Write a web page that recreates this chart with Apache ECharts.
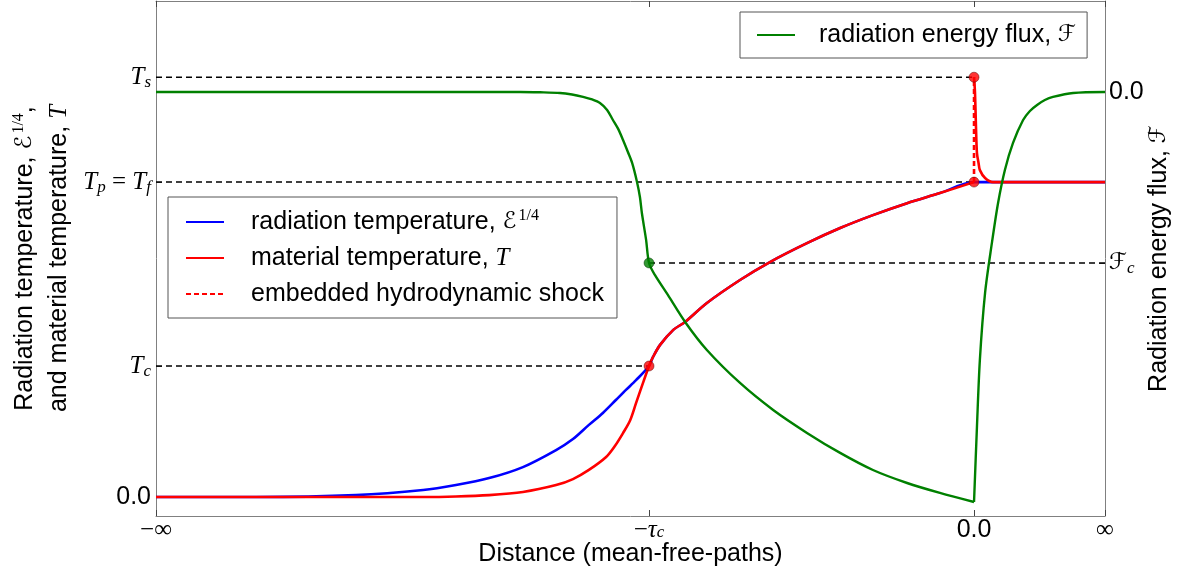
<!DOCTYPE html>
<html><head><meta charset="utf-8">
<script src="https://cdn.jsdelivr.net/npm/echarts@6/dist/echarts.min.js"></script>
<style>html,body{margin:0;padding:0;background:#fff}#c{width:1186px;height:573px}</style>
</head><body><div id="c"></div>
<script>
// Distance axis (units of tau_c); the axis ends stand for -inf and +inf
const X_MIN = -2.517, X_MAX = 0.403, X_TAU = -1, X_ZERO = 0;
// Temperature levels (units of T_f) and flux levels (units of |F_c|)
const T_ZERO = 0, T_C = 0.416, T_F = 1.0, T_S = 1.333;
const F_ZERO = 0, F_C = -1.0;
const T_AXIS_MIN = -0.0603, T_AXIS_MAX = 1.575;
const F_AXIS_MIN = -2.480, F_AXIS_MAX = 0.532;

const xTicks = [X_MIN, X_TAU, X_ZERO, X_MAX];
const xTickLabels = ['{m|\u2212\u221e}', '{m|\u2212}{i|\u03c4}{subx|c}', '0.0', '{mu|\u221e}'];
const tTicks = [T_ZERO, T_C, T_F, T_S];
const tTickLabels = ['0.0', '{i|T}{sub|c}', '{i|T}{sub|p}{m| = }{i|T}{sub|f}', '{i|T}{sub|s}'];
const fTicks = [F_C, F_ZERO];
const fTickLabels = ['{sc|\u2131}{sub|c}', '0.0'];

// radiation temperature E^{1/4}
const radX = [-2.517, -2.209, -1.902, -1.695, -1.594, -1.492, -1.388, -1.286, -1.234, -1.185, -1.142, -1.102, -1.071, -1.040, -1.0,
  -0.988, -0.966, -0.926, -0.889, -0.822, -0.720, -0.628, -0.514, -0.412, -0.311, -0.206, -0.105, 0, 0.403];
const radT = [0, 0, 0.006, 0.022, 0.038, 0.060, 0.095, 0.149, 0.184, 0.229, 0.267, 0.308, 0.340, 0.371, 0.416,
  0.444, 0.483, 0.530, 0.556, 0.616, 0.689, 0.746, 0.806, 0.854, 0.895, 0.933, 0.965, 1.0, 1.0];

// material temperature T (null = break at the embedded shock)
const matX = [-2.517, -2.074, -1.695, -1.594, -1.492, -1.388, -1.286, -1.234, -1.185, -1.132, -1.105, -1.080, -1.058, -1.040, -1.022, -1.0,
  -0.988, -0.966, -0.926, -0.889, -0.822, -0.720, -0.628, -0.514, -0.412, -0.311, -0.206, -0.105, 0, null,
  0, 0.003, 0.006, 0.009, 0.014, 0.018, 0.034, 0.058, 0.403];
const matT = [0, 0, 0, 0.0016, 0.006, 0.016, 0.038, 0.057, 0.086, 0.127, 0.162, 0.203, 0.244, 0.298, 0.352, 0.416,
  0.444, 0.483, 0.530, 0.556, 0.616, 0.689, 0.746, 0.806, 0.854, 0.895, 0.933, 0.965, 1.0, null,
  1.333, 1.283, 1.175, 1.092, 1.060, 1.038, 1.013, 1.0, 1.0];

// embedded hydrodynamic shock
const shockX = [X_ZERO, X_ZERO];
const shockT = [T_F, T_S];

// radiation energy flux F
const fluxX = [-2.517, -1.766, -1.397, -1.335, -1.274, -1.237, -1.203, -1.175, -1.151, -1.129, -1.111, -1.095, -1.080, -1.065, -1.052, -1.037, -1.028, -1.022, -1.009, -1.0,
  -0.982, -0.942, -0.889, -0.822, -0.720, -0.618, -0.514, -0.412, -0.311, -0.206, -0.105, 0,
  0.009, 0.018, 0.034, 0.055, 0.074, 0.095, 0.120, 0.151, 0.172, 0.194, 0.218, 0.243, 0.305, 0.403];
const fluxF = [0, 0, 0, -0.002, -0.006, -0.015, -0.029, -0.044, -0.064, -0.105, -0.164, -0.216, -0.281, -0.351, -0.415, -0.526, -0.614, -0.708, -0.865, -1.0,
  -1.070, -1.187, -1.345, -1.509, -1.702, -1.860, -1.994, -2.111, -2.211, -2.287, -2.345, -2.398,
  -1.959, -1.567, -1.175, -0.883, -0.649, -0.456, -0.298, -0.164, -0.111, -0.076, -0.047, -0.029, -0.006, 0];

const zip = (xs, ys) => xs.map((x, i) => (x === null || ys[i] === null) ? [null, null] : [x, ys[i]]);
const pick = (ticks, labels) => v => { for (let i = 0; i < ticks.length; i++) if (Math.abs(ticks[i] - v) < 1e-6) return labels[i]; return ''; };
// the flux has a sharp corner at x = 0: draw its two sides as two pieces of the same line
const fluxPts = zip(fluxX, fluxF);
const fluxLeft = fluxPts.filter(p => p[0] <= X_ZERO);
const fluxRight = fluxPts.filter(p => p[0] >= X_ZERO);

const SANS = "'Liberation Sans', Arial, sans-serif";
const SERIF = "'Liberation Serif', 'DejaVu Serif', serif";
const FS = 25;
const rich = {
  m: { fontFamily: SERIF, fontSize: FS },
  mu: { fontFamily: SERIF, fontSize: FS, padding: [0, 0, 14, 0] },
  i: { fontFamily: SERIF, fontStyle: 'italic', fontSize: FS },
  sc: { fontFamily: "'DejaVu Sans', sans-serif", fontStyle: 'normal', fontSize: 23 },
  sub: { fontFamily: SERIF, fontStyle: 'italic', fontSize: 17, padding: [11, 0, 0, 0] },
  subx: { fontFamily: SERIF, fontStyle: 'italic', fontSize: 17, padding: [5, 0, 0, 0] },
  sup: { fontFamily: SERIF, fontSize: 16, padding: [0, 0, 13, 2] },
  t: { fontFamily: SANS, fontSize: FS },
  g: { width: 22 },
  g2: { width: 19 }
};
const withLH = lh => Object.fromEntries(Object.entries(rich).map(([k, v]) => [k, Object.assign({}, v, { lineHeight: lh })]));

const AX = '#808080';
const tick = { show: true, inside: true, length: 6, lineStyle: { color: '#444', width: 1 } };

const legendNames = {
  'rad': '{g| }{t|radiation temperature, }{sc|\u2130}{sup|1/4}',
  'mat': '{g| }{t|material temperature, }{i|T}',
  'shock': '{g| }{t|embedded hydrodynamic shock}',
  'flux': '{g2| }{t|radiation energy flux, }{sc|\u2131}'
};

const dash = (pts, yi) => ({
  type: 'line', yAxisIndex: yi, data: pts, symbol: 'none', silent: true,
  lineStyle: { color: '#000', width: 1.5, type: [6, 4] }, z: 1
});

const legendBase = {
  orient: 'vertical', itemWidth: 38, itemHeight: 14,
  itemStyle: { opacity: 0, borderWidth: 0 },
  backgroundColor: '#fff', borderColor: '#555', borderWidth: 1, borderRadius: 0,
  formatter: n => legendNames[n],
  textStyle: { fontSize: FS, color: '#000', lineHeight: 30, rich: withLH(30) },
  selectedMode: false
};

const SMOOTH = 0.3;
const option = {
  animation: false,
  backgroundColor: '#fff',
  textStyle: { fontFamily: SANS },
  grid: { left: 156, right: 81, top: 1, bottom: 57, containLabel: false, outerBoundsMode: 'none' },
  xAxis: [{
    type: 'value', min: X_MIN, max: X_MAX, position: 'bottom',
    axisLine: { show: true, onZero: false, lineStyle: { color: AX, width: 1 } },
    splitLine: { show: false },
    axisTick: Object.assign({ customValues: xTicks }, tick),
    axisLabel: { customValues: xTicks, formatter: pick(xTicks, xTickLabels), color: '#000', fontSize: FS, fontFamily: SANS, margin: 2, rich: rich, showMinLabel: true, showMaxLabel: true },
    name: 'Distance (mean-free-paths)', nameLocation: 'middle', nameGap: 26, nameMoveOverlap: false,
    nameTextStyle: { fontSize: FS, color: '#000', fontFamily: SANS }
  }, {
    type: 'value', min: X_MIN, max: X_MAX, position: 'top',
    axisLine: { show: true, onZero: false, lineStyle: { color: AX, width: 1 } },
    splitLine: { show: false },
    axisTick: Object.assign({ customValues: xTicks }, tick),
    axisLabel: { show: false }
  }],
  yAxis: [{
    type: 'value', min: T_AXIS_MIN, max: T_AXIS_MAX, position: 'left',
    axisLine: { show: true, onZero: false, lineStyle: { color: AX, width: 1 } },
    splitLine: { show: false },
    axisTick: Object.assign({ customValues: tTicks }, tick),
    axisLabel: { customValues: tTicks, formatter: pick(tTicks, tTickLabels), color: '#000', fontSize: FS, fontFamily: SANS, margin: 5, rich: rich, showMinLabel: true, showMaxLabel: true },
    name: '{t|Radiation temperature, }{sc|\u2130}{sup|1/4}{t|,}\n{t|and material temperature, }{i|T}',
    nameLocation: 'middle', nameRotate: 90, nameGap: 80, nameMoveOverlap: false,
    nameTextStyle: { color: '#000', fontSize: FS, lineHeight: 34, rich: withLH(34) }
  }, {
    type: 'value', min: F_AXIS_MIN, max: F_AXIS_MAX, position: 'right',
    axisLine: { show: true, onZero: false, lineStyle: { color: AX, width: 1 } },
    splitLine: { show: false },
    axisTick: Object.assign({ customValues: fTicks }, tick),
    axisLabel: { customValues: fTicks, formatter: pick(fTicks, fTickLabels), color: '#000', fontSize: FS, fontFamily: SANS, margin: 4, rich: rich },
    name: '{t|Radiation energy flux, }{sc|\u2131}',
    nameLocation: 'middle', nameRotate: 90, nameGap: 42, nameMoveOverlap: false,
    nameTextStyle: { color: '#000', fontSize: FS, rich: rich }
  }],
  legend: [
    Object.assign({}, legendBase, { data: ['rad', 'mat', 'shock'], left: 168, top: 197, padding: [10, 13, 9, 17], itemGap: 6 }),
    Object.assign({}, legendBase, { data: ['flux'], left: 740, top: 12, padding: [8, 11, 8, 16] })
  ],
  series: [
    dash([[X_MIN, T_S], [X_ZERO, T_S]], 0),
    dash([[X_MIN, T_F], [X_ZERO, T_F]], 0),
    dash([[X_MIN, T_C], [X_TAU, T_C]], 0),
    dash([[X_TAU, F_C], [X_MAX, F_C]], 1),
    { name: 'rad', type: 'line', yAxisIndex: 0, data: zip(radX, radT), symbol: 'none', smooth: SMOOTH,
      lineStyle: { color: '#0000ff', width: 2.6 }, itemStyle: { color: '#0000ff' }, z: 2 },
    { name: 'mat', type: 'line', yAxisIndex: 0, data: zip(matX, matT), symbol: 'none', smooth: SMOOTH, connectNulls: false,
      lineStyle: { color: '#ff0000', width: 2.6 }, itemStyle: { color: '#ff0000' }, z: 3 },
    { name: 'shock', type: 'line', yAxisIndex: 0, data: zip(shockX, shockT), symbol: 'none',
      lineStyle: { color: '#ff0000', width: 2.6, type: [5, 3] }, itemStyle: { color: '#ff0000' }, z: 3 },
    { name: 'flux', type: 'line', yAxisIndex: 1, data: fluxLeft, symbol: 'none', smooth: SMOOTH,
      lineStyle: { color: '#008000', width: 2.4 }, itemStyle: { color: '#008000' }, z: 4 },
    { type: 'line', yAxisIndex: 1, data: fluxRight, symbol: 'none', smooth: SMOOTH, silent: true,
      lineStyle: { color: '#008000', width: 2.4 }, itemStyle: { color: '#008000' }, z: 4 },
    { type: 'scatter', yAxisIndex: 0, data: [[X_TAU, T_C], [X_ZERO, T_F], [X_ZERO, T_S]], symbolSize: 10, silent: true,
      itemStyle: { color: '#ff0000', borderColor: '#550000', borderWidth: 0.6 }, z: 5 },
    { type: 'scatter', yAxisIndex: 1, data: [[X_TAU, F_C]], symbolSize: 10, silent: true,
      itemStyle: { color: '#008000', borderColor: '#003300', borderWidth: 0.6 }, z: 5 }
  ]
};
echarts.init(document.getElementById('c'), null, { renderer: 'canvas' }).setOption(option);
</script></body></html>
